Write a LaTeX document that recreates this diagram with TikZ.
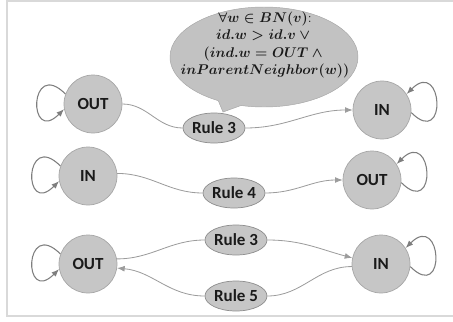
\documentclass[tikz,border=0pt]{standalone}
\usepackage{fontspec}
\newfontfamily\labelfont{Carlito}
\usetikzlibrary{shapes.geometric,shapes.callouts,arrows.meta}

\definecolor{nsStateFill}{HTML}{C6C6C6}
\definecolor{nsStateStroke}{HTML}{A6A6A6}
\definecolor{nsRuleStroke}{HTML}{8E8E8E}
\definecolor{nsBubbleFill}{HTML}{C2C2C2}
\definecolor{nsLink}{HTML}{9C9C9C}
\definecolor{nsLoop}{HTML}{7E7E7E}
\definecolor{nsFrame}{HTML}{D9D9D9}
\definecolor{nsText}{HTML}{1A1A1A}

\begin{document}
\begin{tikzpicture}[
    font=\labelfont\bfseries\fontsize{14.5}{16}\selectfont,
    state/.style={circle,fill=nsStateFill,draw=nsStateStroke,line width=0.6pt,
                  minimum size=1.74cm,inner sep=0pt,text=nsText},
    rulebox/.style={ellipse,fill=nsStateFill,draw=nsRuleStroke,line width=0.6pt,
                    minimum width=1.86cm,minimum height=0.9cm,inner sep=0pt,text=nsText},
    link/.style={nsLink,line width=0.7pt},
    selfloop/.style={nsLoop,line width=0.9pt,-{Latex[length=6.5pt,width=5pt]}},
    tip/.style={-{Latex[length=6.5pt,width=5pt]}}
  ]
  \useasboundingbox (0,0) rectangle (13.59,9.63);

  % ---- frame ----
  \draw[nsFrame,line width=1.2pt] (13.59,9.60) -- (0.21,9.60) -- (0.21,0.15) -- (13.59,0.15);

  % ---- speech bubble ----
  \node[ellipse callout,fill=nsBubbleFill,draw=nsStateStroke,line width=0.4pt,
        minimum width=5.64cm,minimum height=3.0cm,
        callout absolute pointer={(6.69,6.27)}] (bubble) at (7.92,7.92) {};
  \node[align=center,text=nsText,font=\fontsize{12}{14.6}\selectfont\boldmath] (cond) at (7.95,8.28)
        {$\forall w \in BN(v)$:\\ $id.w > id.v \vee{}$\\ $(ind.w = OUT \wedge{}$\\ $inParentNeighbor(w))$};

  % ---- states and rules ----
  \node[state]   (outA)  at (2.79,6.51)  {OUT};
  \node[state]   (inA)   at (11.46,6.33) {IN};
  \node[rulebox] (ruleA) at (6.42,5.79)  {Rule 3};

  \node[state]   (inB)   at (2.64,4.35)  {IN};
  \node[state]   (outB)  at (11.16,4.23) {OUT};
  \node[rulebox] (ruleB) at (7.02,3.84)  {Rule 4};

  \node[state]   (outC)  at (2.64,1.71)  {OUT};
  \node[state]   (inC)   at (11.43,1.71) {IN};
  \node[rulebox] (ruleC) at (7.08,2.43)  {Rule 3};
  \node[rulebox] (ruleD) at (7.08,0.75)  {Rule 5};

  % ---- transitions ----
  \draw[link]     (outA.east)  to[out=0,in=180] (ruleA.west);
  \draw[link,tip] (ruleA.east) to[out=0,in=180] (inA.west);

  \draw[link]     (inB.5)      to[out=0,in=180] (ruleB.west);
  \draw[link,tip] (ruleB.east) to[out=0,in=180] (outB.west);

  \draw[link]     (outC.10)    to[out=0,in=180]  (ruleC.west);
  \draw[link,tip] (ruleC.east) to[out=0,in=165]  (inC.168);
  \draw[link]     (inC.185)    to[out=180,in=0]  (ruleD.east);
  \draw[link,tip] (ruleD.west) to[out=180,in=-5] (outC.-8);

  % ---- self loops ----
  \foreach \n in {outA,inB,outC}{%
    \draw[selfloop] (\n.160) .. controls +(135:1.55) and +(225:1.55) .. (\n.190);
  }
  \foreach \n in {inA,outB,inC}{%
    \draw[selfloop] (\n.-5) .. controls +(-45:1.55) and +(45:1.55) .. (\n.33);
  }
\end{tikzpicture}
\end{document}
